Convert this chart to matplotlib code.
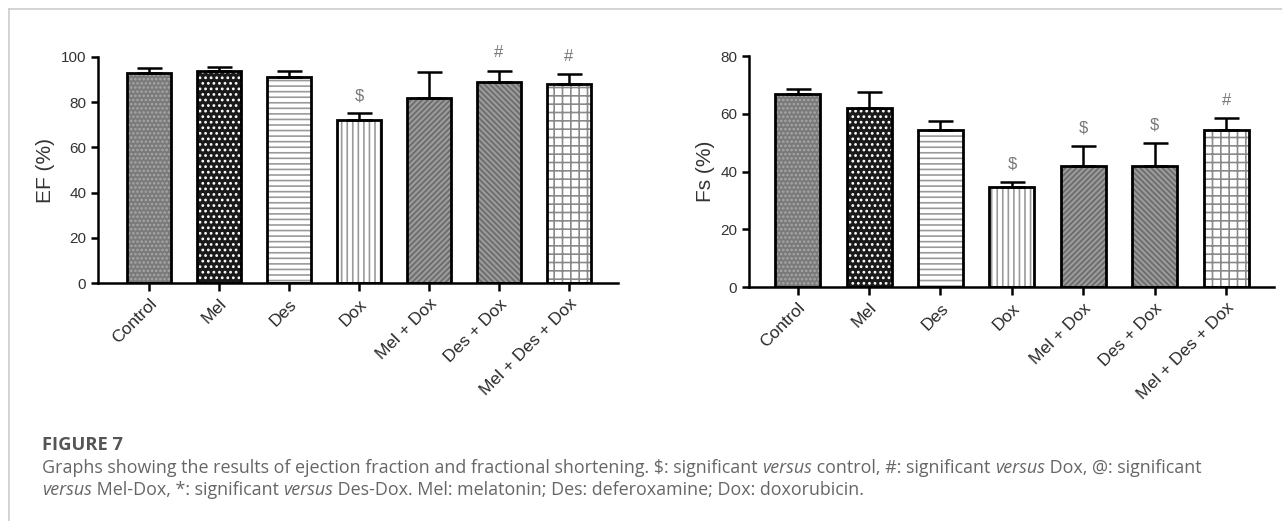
import matplotlib
matplotlib.use("Agg")
import matplotlib.pyplot as plt
from matplotlib.lines import Line2D

# 群のラベル
groups = ["Control", "Mel", "Des", "Dox", "Mel + Dox", "Des + Dox", "Mel + Des + Dox"]

# EF (%) の平均と誤差
ef_mean = [93, 94, 91, 72, 82, 89, 88]
ef_err = [2, 1.5, 3, 3, 11.5, 5, 4.5]
ef_sig = ["", "", "", "$", "", "#", "#"]

# Fs (%) の平均と誤差
fs_mean = [67, 62, 54.5, 34.5, 42, 42, 54.5]
fs_err = [1.5, 5.5, 3, 2, 7, 8, 4]
fs_sig = ["", "", "", "$", "$", "$", "#"]

# バーごとの模様
faces = ["#7a7a7a", "#1a1a1a", "white", "white", "#9a9a9a", "#9a9a9a", "white"]
hatch_colors = ["#a8a8a8", "white", "#9a9a9a", "#9a9a9a", "#6a6a6a", "#6a6a6a", "#8a8a8a"]
hatches = ["....", "...", "---", "|||", "//////", "\\\\\\\\\\\\", "++"]

# キャプション（(文字列, 斜体か) のリスト）
caption_title = "FIGURE 7"
caption_line1 = [("Graphs showing the results of ejection fraction and fractional shortening. $: significant ", False),
                 ("versus", True), (" control, #: significant ", False), ("versus", True),
                 (" Dox, @: significant", False)]
caption_line2 = [("versus", True), (" Mel-Dox, *: significant ", False), ("versus", True),
                 (" Des-Dox. Mel: melatonin; Des: deferoxamine; Dox: doxorubicin.", False)]

plt.rcParams["font.family"] = ["Liberation Sans", "DejaVu Sans"]
plt.rcParams["hatch.linewidth"] = 1.2

fig = plt.figure(figsize=(12.82, 5.21), dpi=100)

# 枠線
fig.add_artist(Line2D([0.007, 0.007], [0, 0.982], transform=fig.transFigure, color="#cccccc", lw=1.2))
fig.add_artist(Line2D([0.007, 1.0], [0.982, 0.982], transform=fig.transFigure, color="#cccccc", lw=1.2))


def draw_panel(ax, means, errs, sig, ylabel, ymax, xlim):
    x = list(range(len(groups)))
    w = 0.63
    # 模様だけ描く
    ax.bar(x, means, width=w, color=faces, edgecolor=hatch_colors, hatch=hatches, linewidth=0, zorder=2)
    # 黒い枠
    ax.bar(x, means, width=w, fill=False, edgecolor="black", linewidth=2, zorder=3)
    ax.errorbar(x, means, yerr=[[0] * len(errs), errs], fmt="none", ecolor="black",
                elinewidth=1.8, capsize=9, capthick=1.8, zorder=4)
    for xi, m, e, s in zip(x, means, errs, sig):
        if s:
            ax.text(xi, m + e + ymax * 0.045, s, ha="center", va="bottom", fontsize=12, color="#777777",
                    clip_on=False)
    ax.set_ylim(0, ymax)
    ax.set_xlim(*xlim)
    ax.set_yticks(range(0, ymax + 1, 20))
    ax.set_xticks(x)
    ax.set_xticklabels(groups, rotation=45, ha="right", rotation_mode="anchor", fontsize=12.5, color="#2a2a2a")
    ax.tick_params(axis="y", labelsize=11, labelcolor="#333333", width=1.8, length=5, direction="out")
    ax.tick_params(axis="x", width=1.8, length=6, direction="out")
    ax.spines["top"].set_visible(False)
    ax.spines["right"].set_visible(False)
    ax.spines["left"].set_linewidth(1.8)
    ax.spines["bottom"].set_linewidth(1.8)
    ax.set_ylabel(ylabel, fontsize=15, color="#333333")


ax1 = fig.add_axes([0.0764, 0.4568, 0.4056, 0.4338])
draw_panel(ax1, ef_mean, ef_err, ef_sig, "EF (%)", 100, (-0.73, 6.7))

ax2 = fig.add_axes([0.5843, 0.449, 0.4095, 0.4435])
draw_panel(ax2, fs_mean, fs_err, fs_sig, "Fs (%)", 80, (-0.68, 6.67))

# キャプション
cap_font = ["Open Sans", "DejaVu Sans"]
x0 = 42 / 1282
fig.text(x0, 1 - 445 / 521, caption_title, fontsize=13.2, fontweight="bold", color="#555555",
         family=cap_font, va="center")

renderer = fig.canvas.get_renderer()


def draw_line(pieces, y):
    x = x0
    for s, it in pieces:
        t = fig.text(x, y, s, fontsize=12.9, color="#666666", family=cap_font, va="center",
                     style="italic" if it else "normal")
        bb = t.get_window_extent(renderer=renderer)
        x += bb.width / fig.bbox.width


draw_line(caption_line1, 1 - 468 / 521)
draw_line(caption_line2, 1 - 490 / 521)

fig.savefig("out.png", dpi=100)
